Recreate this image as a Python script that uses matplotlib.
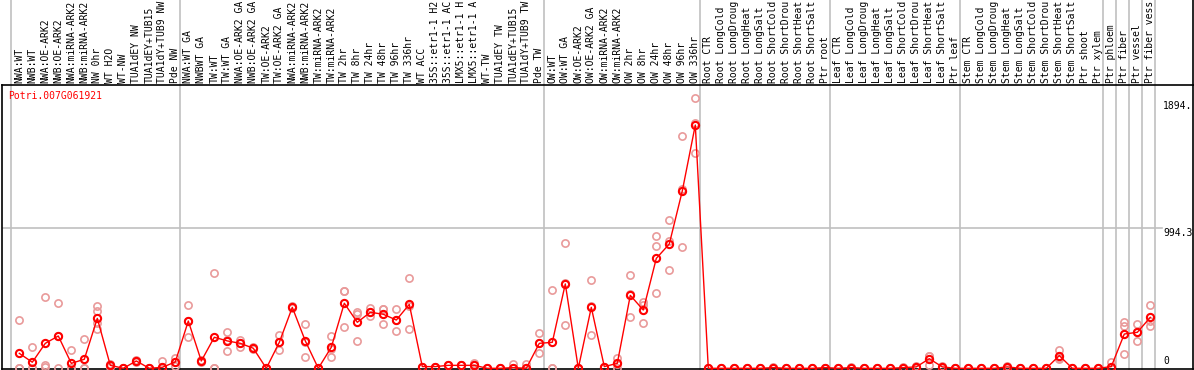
import numpy as np
import matplotlib
matplotlib.use("Agg")
import matplotlib.pyplot as plt
import matplotlib.transforms as mtransforms

nan = np.nan

labels = [
    "NWA:WT", "NWB:WT", "NWA:OE-ARK2", "NWB:OE-ARK2", "NWA:miRNA-ARK2", "NWB:miRNA-ARK2",
    "NW 0hr", "WT H2O", "WT-NW", "TUA1dEY NW", "TUA1dEY+TUB15", "TUA1dY+TUB9 NW", "Pde NW",
    "NWA:WT GA", "NWBWT GA", "TW:WT", "TW:WT GA", "NWA:OE-ARK2 GA", "NWB:OE-ARK2 GA",
    "TW:OE-ARK2", "TW:OE-ARK2 GA", "NWA:miRNA-ARK2", "NWB:miRNA-ARK2", "TW:miRNA-ARK2",
    "TW:miRNA-ARK2", "TW 2hr", "TW 8hr", "TW 24hr", "TW 48hr", "TW 96hr", "TW 336hr",
    "WT ACC", "35S::etr1-1 H2O", "35S::etr1-1 ACC", "LMX5::etr1-1 H2O", "LMX5::etr1-1 ACC",
    "WT-TW", "TUA1dEY TW", "TUA1dEY+TUB15", "TUA1dY+TUB9 TW", "Pde TW",
    "OW:WT", "OW:WT GA", "OW:OE-ARK2", "OW:OE-ARK2 GA", "OW:miRNA-ARK2", "OW:miRNA-ARK2",
    "OW 2hr", "OW 8hr", "OW 24hr", "OW 48hr", "OW 96hr", "OW 336hr",
    "Root CTR", "Root LongCold", "Root LongDrought", "Root LongHeat", "Root LongSalt",
    "Root ShortCold", "Root ShortDrought", "Root ShortHeat", "Root ShortSalt", "Ptr root",
    "Leaf CTR", "Leaf LongCold", "Leaf LongDrought", "Leaf LongHeat", "Leaf LongSalt",
    "Leaf ShortCold", "Leaf ShortDrought", "Leaf ShortHeat", "Leaf ShortSalt", "Ptr leaf",
    "Stem CTR", "Stem LongCold", "Stem LongDrought", "Stem LongHeat", "Stem LongSalt",
    "Stem ShortCold", "Stem ShortDrought", "Stem ShortHeat", "Stem ShortSalt", "Ptr shoot",
    "Ptr xylem", "Ptr phloem", "Ptr fiber", "Ptr vessel", "Ptr fiber vessel",
]

mean_vals = [
    106, 43, 177, 229, 35, 64, 354, 21, 0, 52, 0, 7, 45,
    335, 52, 220, 194, 177, 142, 0, 184, 432, 194, 0, 149, 461, 326, 397, 383, 342,
    453, 12, 12, 21, 21, 21, 0, 0, 5, 0, 177,
    184, 598, 0, 432, 12, 35, 517, 413, 779, 881, 1257, 1724,
    0, 0, 0, 0, 0, 5, 0, 0, 0, 5,
    0, 5, 0, 0, 0, 5, 10, 68, 10, 0,
    0, 0, 0, 10, 0, 0, 0, 90, 0, 0, 0,
    12, 243, 255, 361,
]

rep1 = [
    342, 149, 503, 461, 130, 205, 442, 30, 0, 60, 0, 52, 76,
    449, 60, 675, 255, 201, 150, 0, 236, 440, 312, 0, 229, 546, 402, 425, 418, 418,
    638, 12, 12, 21, 21, 40, 0, 0, 31, 31, 248,
    555, 886, 0, 624, 12, 76, 659, 468, 938, 1051, 1646, 1913,
    0, 0, 0, 0, 0, 10, 0, 0, 0, 5,
    0, 10, 0, 0, 0, 10, 15, 90, 15, 0,
    0, 0, 0, 15, 0, 0, 0, 130, 0, 0, 0,
    43, 326, 314, 449,
]
rep2 = [
    0, 0, 24, 0, 0, 0, 319, 21, 0, 52, 0, 0, 45,
    224, 52, 0, 123, 154, 142, 0, 130, 432, 83, 0, 83, 291, 194, 371, 312, 267,
    276, 12, 12, 21, 21, 21, 0, 0, 0, 0, 106,
    0, 305, 0, 234, 12, 0, 366, 319, 864, 902, 857, 1523,
    0, 0, 0, 0, 0, 5, 0, 0, 0, 5,
    0, 5, 0, 0, 0, 5, 10, 24, 10, 0,
    0, 0, 0, 10, 0, 0, 0, 71, 0, 0, 0,
    0, 302, 196, 302,
]
rep3 = [
    0, 0, 12, 226, 0, 0, 276, 12, 0, 45, 0, 0, 14,
    335, 45, 0, 204, 177, 134, 0, 184, 425, 187, 0, 135, 546, 382, 397, 418, 342,
    445, 12, 12, 21, 21, 2, 0, 0, 0, 0, 177,
    0, 603, 0, 438, 12, 30, 526, 452, 531, 694, 1268, 1736,
    0, 0, 0, 0, 0, 0, 0, 0, 0, 5,
    0, 0, 0, 0, 0, 0, 5, 90, 5, 0,
    0, 0, 0, 5, 0, 0, 0, 69, 0, 0, 0,
    0, 99, 255, 332,
]
rep4 = [nan] * 88
rep4[6] = 409

group_ends = [-1, 12, 40, 52, 62, 72, 83, 84, 85, 86, 87]
gene_name = "Potri.007G061921"
ytick_vals = [0, 994.3, 1894.6]
ytick_text = ["0", "994.3", "1894."]
label_max_chars = 14   # the label strip only has room for 14 characters

# ---- layout in pixels ----
W, H = 1194, 370
X0_PX, DX_PX = 19.3, 13.0          # first category centre, spacing
AX_L, AX_R, AX_T, AX_B = 2, 1193, 85, 369
ZERO_PX, UNITS_PER_PX = 368.3, 7.087

fig = plt.figure(figsize=(W / 100, H / 100), dpi=100)
ax = fig.add_axes([AX_L / W, (H - AX_B) / H, (AX_R - AX_L) / W, (AX_B - AX_T) / H])
xmin = (AX_L - X0_PX) / DX_PX
xmax = xmin + (AX_R - AX_L) / DX_PX
ymin = -(AX_B - ZERO_PX) * UNITS_PER_PX
ymax = (ZERO_PX - AX_T) * UNITS_PER_PX
ax.set_xlim(xmin, xmax)
ax.set_ylim(ymin, ymax)
ax.set_xticks([])
ax.set_yticks([])
for s in ax.spines.values():
    s.set_color("black")
    s.set_linewidth(1.2)

font = "DejaVu Sans Mono"
fs = 7.0
grid_c = "#c0c0c0"
ax_h_px = AX_B - AX_T

xs = np.arange(len(labels))
trans_xa = mtransforms.blended_transform_factory(ax.transData, ax.transAxes)
trans_ay = mtransforms.blended_transform_factory(ax.transAxes, ax.transData)

# vertical group separators (extend through label area)
for g in group_ends:
    ax.plot([g + 0.37, g + 0.37], [-(H - AX_B) / ax_h_px, 1 + AX_T / ax_h_px],
            transform=trans_xa, color=grid_c, lw=1.2, clip_on=False, zorder=1)

# horizontal grid line
ax.plot([0, (1162 - AX_L) / (AX_R - AX_L)], [ytick_vals[1]] * 2, transform=trans_ay,
        color=grid_c, lw=1.2, zorder=1)

# right border through label area
ax.plot([1, 1], [1, 1 + AX_T / ax_h_px], transform=ax.transAxes, color="black",
        lw=1.2, clip_on=False)

# category labels
for i, lab in enumerate(labels):
    ax.text(i, 1 + 2 / ax_h_px, lab[:label_max_chars], transform=trans_xa, rotation=90,
            ha="center", va="bottom", fontsize=fs, family=font, color="black",
            clip_on=False)

# y value labels
tx = (1163 - AX_L) / (AX_R - AX_L)
ax.text(tx, ytick_vals[2], ytick_text[2], transform=trans_ay, ha="left", va="top",
        fontsize=fs, family=font, color="black")
ax.text(tx, ytick_vals[1], ytick_text[1], transform=trans_ay, ha="left", va="top",
        fontsize=fs, family=font, color="black")
ax.annotate(ytick_text[0], xy=(tx, ytick_vals[0]), xycoords=trans_ay, xytext=(0, 2),
            textcoords="offset points", ha="left", va="bottom", fontsize=fs,
            family=font, color="black")

# gene name
fig.text(8 / W, 1 - 91 / H, gene_name, ha="left", va="top", fontsize=fs, family=font,
         color="red")

# replicates
rep_c = "#e99a9a"
for rep in (rep1, rep2, rep3, rep4):
    ax.plot(xs, rep, ls="none", marker="o", ms=5.2, mfc="none", mec=rep_c, mew=1.2,
            clip_on=False, zorder=3)

# mean line
ax.plot(xs, mean_vals, color="red", lw=1.0, marker="o", ms=5.2, mfc="none", mec="red",
        mew=1.5, clip_on=False, zorder=4)

fig.savefig("out.png", dpi=100)
